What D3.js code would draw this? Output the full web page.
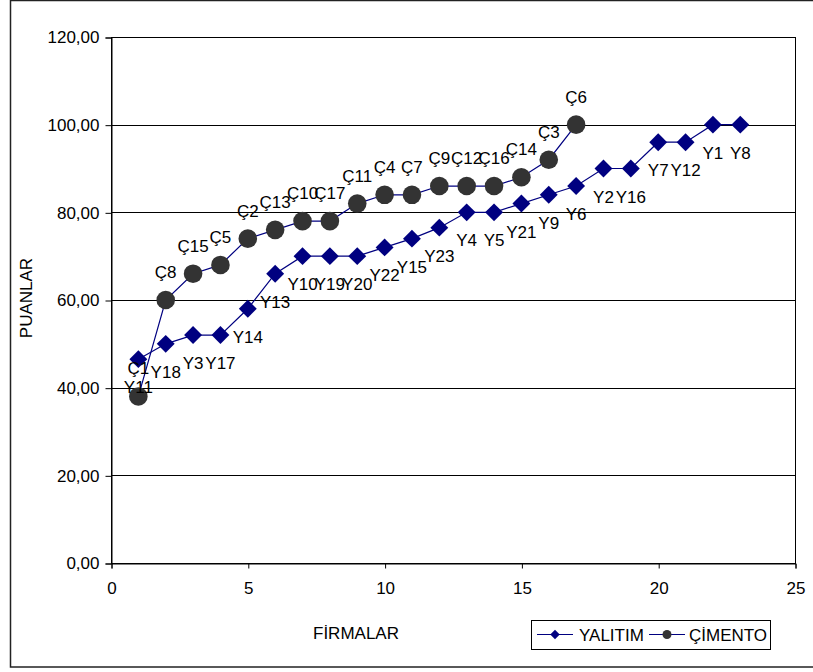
<!DOCTYPE html>
<html>
<head>
<meta charset="utf-8">
<script src="https://cdn.jsdelivr.net/npm/d3@7"></script>
<style>
  html, body { margin: 0; padding: 0; background: #fff; }
  svg { display: block; font-family: "Liberation Sans", Arial, sans-serif; }
</style>
</head>
<body>
<svg id="chart" width="813" height="672"></svg>
<script>
// ---- data ----
const yalitimX = [1,2,3,4,5,6,7,8,9,10,11,12,13,14,15,16,17,18,19,20,21,22,23];
const yalitimY = [46.5,50,52,52,58,66,70,70,70,72,74,76.5,80,80,82,84,86,90,90,96,96,100,100];
const yalitimLabels = ["Y11","Y18","Y3","Y17","Y14","Y13","Y10","Y19","Y20","Y22","Y15","Y23","Y4","Y5","Y21","Y9","Y6","Y2","Y16","Y7","Y12","Y1","Y8"];

const cimentoX = [1,2,3,4,5,6,7,8,9,10,11,12,13,14,15,16,17];
const cimentoY = [38,60,66,68,74,76,78,78,82,84,84,86,86,86,88,92,100];
const cimentoLabels = ["Ç1","Ç8","Ç15","Ç5","Ç2","Ç13","Ç10","Ç17","Ç11","Ç4","Ç7","Ç9","Ç12","Ç16","Ç14","Ç3","Ç6"];

const xTicks = [0,5,10,15,20,25];
const yTicks = [0,20,40,60,80,100,120];
const seriesNames = ["YALITIM","ÇİMENTO"];
const xTitle = "FİRMALAR";
const yTitle = "PUANLAR";

// ---- layout ----
const svg = d3.select("#chart");
const pL = 111, pR = 795, pT = 37, pB = 563;
const navy = "#000080", grey = "#333333";
const fs = 17;
const font = '"Liberation Sans", Arial, sans-serif';

const x = d3.scaleLinear().domain([0,25]).range([pL,pR]);
const y = d3.scaleLinear().domain([0,120]).range([pB,pT]);

// outer frame
svg.append("rect").attr("x",10.5).attr("y",0.5).attr("width",830).attr("height",666.5)
  .attr("fill","none").attr("stroke","#222").attr("stroke-width",1.5);

// plot area
svg.append("rect").attr("x",pL+0.5).attr("y",pT+0.5).attr("width",pR-pL).attr("height",pB-pT)
  .attr("fill","#fff").attr("stroke","#000").attr("stroke-width",1);

// gridlines
svg.append("g").selectAll("line").data(yTicks.filter(d=>d>0 && d<120)).join("line")
  .attr("x1",pL).attr("x2",pR)
  .attr("y1",d=>Math.round(y(d))+0.5).attr("y2",d=>Math.round(y(d))+0.5)
  .attr("stroke","#000").attr("stroke-width",1);

// y axis
const yAxis = d3.axisLeft(y).tickValues(yTicks).tickSizeOuter(0).tickSize(6).tickPadding(6)
  .tickFormat(d => d3.format(".2f")(d).replace(".",","));
const gy = svg.append("g").attr("transform",`translate(${pL+0.5},0.5)`).call(yAxis);
gy.selectAll("text").attr("font-size",fs).attr("fill","#000").attr("font-family",font);
gy.selectAll("line,path").attr("stroke","#000");

// x axis
const xAxis = d3.axisBottom(x).tickValues(xTicks).tickSizeOuter(0).tickSize(5).tickPadding(13)
  .tickFormat(d3.format("d"));
const gx = svg.append("g").attr("transform",`translate(0.5,${pB+0.5})`).call(xAxis);
gx.selectAll("text").attr("font-size",fs).attr("fill","#000").attr("font-family",font);
gx.selectAll("line,path").attr("stroke","#000");

// axis titles
svg.append("text").attr("x",356).attr("y",639).attr("text-anchor","middle")
  .attr("font-size",fs).text(xTitle);
svg.append("text").attr("transform","translate(32,298) rotate(-90)").attr("text-anchor","middle")
  .attr("font-size",fs).text(yTitle);

// series
const line = d3.line().x(d=>x(d[0])).y(d=>y(d[1]));
const yal = yalitimX.map((v,i)=>[v,yalitimY[i],yalitimLabels[i]]);
const cim = cimentoX.map((v,i)=>[v,cimentoY[i],cimentoLabels[i]]);

svg.append("path").datum(yal).attr("d",line).attr("fill","none").attr("stroke",navy).attr("stroke-width",1.2);
svg.append("g").selectAll("path").data(yal).join("path")
  .attr("d",d3.symbol().type(d3.symbolSquare).size(160)())
  .attr("transform",d=>`translate(${x(d[0])},${y(d[1])}) rotate(45)`)
  .attr("fill",navy);

svg.append("path").datum(cim).attr("d",line).attr("fill","none").attr("stroke",navy).attr("stroke-width",1.2);
svg.append("g").selectAll("circle").data(cim).join("circle")
  .attr("cx",d=>x(d[0])).attr("cy",d=>y(d[1])).attr("r",9.3).attr("fill",grey);

// labels
svg.append("g").selectAll("text").data(yal).join("text")
  .attr("x",d=>x(d[0])).attr("y",d=>y(d[1])+34).attr("text-anchor","middle")
  .attr("font-size",fs).attr("fill","#000").text(d=>d[2]);
svg.append("g").selectAll("text").data(cim).join("text")
  .attr("x",d=>x(d[0])).attr("y",d=>y(d[1])-22).attr("text-anchor","middle")
  .attr("font-size",fs).attr("fill","#000").text(d=>d[2]);

// legend
const lg = svg.append("g");
lg.append("rect").attr("x",531.5).attr("y",620.5).attr("width",239).attr("height",29)
  .attr("fill","#fff").attr("stroke","#000").attr("stroke-width",1);
const ly = 634.5;
lg.append("line").attr("x1",537).attr("x2",573).attr("y1",ly).attr("y2",ly).attr("stroke",navy).attr("stroke-width",1.2);
lg.append("path").attr("d",d3.symbol().type(d3.symbolSquare).size(45)())
  .attr("transform",`translate(555,${ly}) rotate(45)`).attr("fill",navy);
lg.append("text").attr("x",579).attr("y",ly+6).attr("font-size",fs).text(seriesNames[0]);
lg.append("line").attr("x1",649).attr("x2",685).attr("y1",ly).attr("y2",ly).attr("stroke",navy).attr("stroke-width",1.2);
lg.append("circle").attr("cx",667).attr("cy",ly).attr("r",4.5).attr("fill",grey);
lg.append("text").attr("x",689).attr("y",ly+6).attr("font-size",fs).text(seriesNames[1]);
</script>
</body>
</html>
